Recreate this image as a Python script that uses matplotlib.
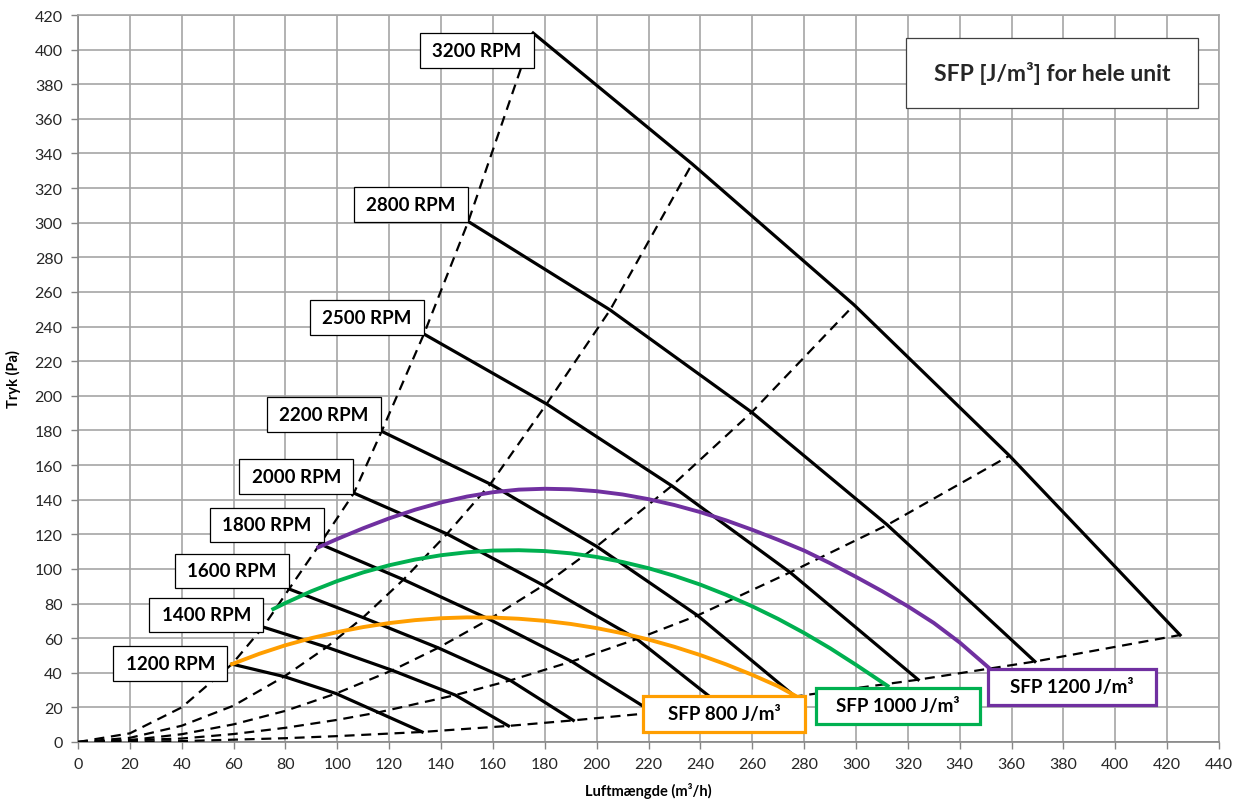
import matplotlib
matplotlib.use('Agg')
import matplotlib.pyplot as plt
from matplotlib.patches import Rectangle

plt.rcParams['font.family'] = ['Lato', 'DejaVu Sans']

# ventilator-kurver (flow m3/h, tryk Pa)
rpm_names = ['1200 RPM', '1400 RPM', '1600 RPM', '1800 RPM', '2000 RPM',
             '2200 RPM', '2500 RPM', '2800 RPM', '3200 RPM']
rpm_flow = [
    [59.4, 79.5, 99.5, 115.8, 132.7],
    [71.4, 95.9, 121.2, 145.5, 166.0],
    [81.4, 109.9, 138.9, 166.7, 191.0],
    [93.3, 125.5, 158.6, 190.4, 222.0],
    [106.4, 142.3, 179.5, 215.5, 248.0],
    [117.1, 159.0, 200.0, 238.9, 276.5],
    [133.4, 180.7, 229.0, 274.6, 324.0],
    [150.5, 205.2, 259.8, 312.1, 369.0],
    [175.5, 236.8, 299.3, 359.2, 425.0],
]
rpm_pressure = [
    [45.0, 37.8, 28.0, 17.1, 5.8],
    [66.4, 54.8, 41.4, 27.1, 9.3],
    [88.4, 71.9, 54.4, 35.6, 12.5],
    [114.4, 93.8, 70.9, 46.5, 16.9],
    [143.8, 120.2, 90.5, 59.5, 21.0],
    [179.5, 149.0, 113.0, 73.1, 26.3],
    [235.7, 195.3, 148.0, 98.0, 36.0],
    [300.7, 249.6, 190.5, 125.4, 46.5],
    [409.6, 334.0, 252.5, 165.4, 61.8],
]

# anlaegskurvernes start ved origo (før første ventilatorkurve)
sys_start_flow = [
    [0, 20, 40],
    [0, 20, 40, 60],
    [0, 20, 40, 60, 80],
    [0, 40, 60, 80, 100],
    [0, 40, 80, 100],
]
sys_start_pressure = [
    [0, 5.0, 20.0],
    [0, 2.4, 9.4, 21.0],
    [0, 1.1, 4.5, 10.2, 18.0],
    [0, 2.0, 4.6, 8.2, 12.8],
    [0, 0.5, 2.2, 3.4],
]

# SFP-kurver
sfp800_flow = [59.4, 70, 80, 90, 100, 110, 120, 130, 140, 150, 160, 170, 180, 190,
               200, 210, 220, 230, 240, 250, 260, 270, 276.5]
sfp800_pressure = [45.0, 51.0, 55.9, 60.0, 63.5, 66.4, 68.7, 70.4, 71.5, 72.0, 71.9, 71.2,
                   70.0, 68.2, 65.8, 62.8, 59.2, 55.0, 50.2, 44.8, 38.8, 32.2, 26.8]
sfp1000_flow = [75.3, 80, 90, 100, 110, 120, 130, 140, 150, 160, 170, 180, 190, 200,
                210, 220, 230, 240, 250, 260, 270, 280, 290, 300, 312.2]
sfp1000_pressure = [76.8, 80.3, 87.1, 93.0, 98.0, 102.1, 105.4, 107.9, 109.6, 110.6, 110.8,
                    110.3, 109.0, 106.9, 104.0, 100.4, 96.0, 90.9, 85.0, 78.4, 71.1, 63.0,
                    54.2, 44.6, 32.4]
sfp1200_flow = [92.7, 100, 110, 120, 130, 140, 150, 160, 170, 180, 190, 200, 210, 220,
                230, 240, 250, 260, 270, 280, 290, 300, 310, 320, 330, 340, 351.7]
sfp1200_pressure = [112.5, 117.3, 123.5, 129.2, 134.2, 138.4, 141.8, 144.3, 145.8, 146.3,
                    146.0, 144.9, 143.0, 140.3, 136.9, 132.8, 128.0, 122.6, 116.8, 110.6,
                    103.3, 95.4, 87.2, 78.4, 68.8, 57.5, 42.3]

sfp_labels = ['SFP 800 J/m³', 'SFP 1000 J/m³', 'SFP 1200 J/m³']
sfp_colors = ['#FF9E00', '#00B050', '#7030A0']

# placering af tekstbokse (nederste venstre hjørne, data-enheder)
rpm_box_pos = [(13.6, 35.4), (27.5, 63.4), (37.4, 88.8), (50.9, 115.4), (62.2, 143.3),
               (72.8, 179.3), (89.5, 235.1), (106.4, 300.6), (131.9, 389.4)]
rpm_box_w, rpm_box_h = 44.0, 20.0
sfp_box_pos = [(217.9, 5.8, 62.5, 20.8), (284.6, 10.4, 63.3, 20.8), (350.9, 21.4, 64.8, 20.8)]

fig = plt.figure(figsize=(12.51, 8.03), dpi=100)
ax = fig.add_axes([78 / 1251, 60 / 803, 1141 / 1251, 727 / 803])

# ventilatorkurver
for fx, fy in zip(rpm_flow, rpm_pressure):
    ax.plot(fx, fy, color='black', lw=2.3, zorder=4, solid_joinstyle='round')

# anlaegskurver (stiplede)
for i in range(5):
    xs = sys_start_flow[i] + [f[i] for f in rpm_flow]
    ys = sys_start_pressure[i] + [p[i] for p in rpm_pressure]
    ax.plot(xs, ys, color='black', lw=1.6, ls=(0, (4.5, 3)), zorder=3)

# SFP-kurver
for fx, fy, c in zip([sfp800_flow, sfp1000_flow, sfp1200_flow],
                     [sfp800_pressure, sfp1000_pressure, sfp1200_pressure], sfp_colors):
    ax.plot(fx, fy, color=c, lw=2.8, zorder=5, solid_joinstyle='round')

# RPM-bokse
for name, (bx, by) in zip(rpm_names, rpm_box_pos):
    ax.add_patch(Rectangle((bx, by), rpm_box_w, rpm_box_h, facecolor='white',
                           edgecolor='black', lw=0.9, zorder=6))
    ax.text(bx + rpm_box_w / 2, by + rpm_box_h / 2, name, ha='center', va='center',
            fontsize=13.5, fontweight='bold', color='black', zorder=7)

# SFP-bokse
for label, (bx, by, bw, bh), c in zip(sfp_labels, sfp_box_pos, sfp_colors):
    ax.add_patch(Rectangle((bx, by), bw, bh, facecolor='white', edgecolor=c,
                           lw=2.3, zorder=6))
    ax.text(bx + bw / 2, by + bh / 2, label, ha='center', va='center',
            fontsize=13.5, fontweight='bold', color='black', zorder=7)

# overskriftsboks
ax.add_patch(Rectangle((319.3, 366.3), 112.6, 40.5, facecolor='white',
                       edgecolor='#404040', lw=0.9, zorder=6))
ax.text(375.6, 386.5, 'SFP [J/m³] for hele unit', ha='center', va='center',
        fontsize=16.5, fontweight='bold', color='#262626', zorder=7)

ax.set_xlim(0, 440)
ax.set_ylim(0, 420)
ax.set_xticks(range(0, 441, 20))
ax.set_yticks(range(0, 421, 20))
ax.grid(True, color='#A6A6A6', lw=1.2, zorder=0)
ax.set_axisbelow(True)
for s in ['top', 'right']:
    ax.spines[s].set_color('#A6A6A6')
    ax.spines[s].set_linewidth(1.2)
for s in ['left', 'bottom']:
    ax.spines[s].set_color('#868686')
    ax.spines[s].set_linewidth(1.2)
ax.tick_params(direction='out', length=5, width=1, color='#868686',
               labelsize=11.5, labelcolor='#262626', pad=6)

ax.set_xlabel('Luftmængde (m³/h)', fontsize=10.5, fontweight='bold', labelpad=8)
ax.set_ylabel('Tryk (Pa)', fontsize=10.5, fontweight='bold', labelpad=10)

fig.savefig('out.png', dpi=100)
